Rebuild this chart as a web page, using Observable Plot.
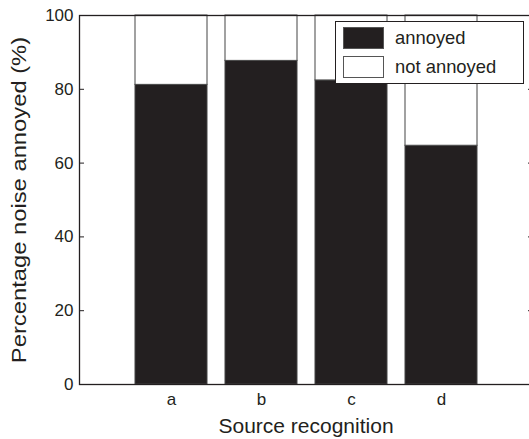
<!DOCTYPE html>
<html>
<head>
<meta charset="utf-8">
<script src="https://cdn.jsdelivr.net/npm/d3@7"></script>
<script src="https://cdn.jsdelivr.net/npm/@observablehq/plot@0.6"></script>
<style>
  html, body { margin: 0; padding: 0; background: #fff; overflow: hidden; }
  #wrap { position: relative; width: 529px; height: 439px; font-family: "Liberation Sans", Arial, Helvetica, sans-serif; }
  #legend { position: absolute; left: 335px; top: 21px; width: 187px; height: 61px; border: 1.2px solid #231f20; background: #fff; }
  .item { position: absolute; left: 7px; height: 22px; display: flex; align-items: center; }
  .sw { width: 41px; height: 22px; box-sizing: border-box; border: 1px solid #555; }
  .lab { margin-left: 11px; font-size: 18.4px; color: #231f20; }
</style>
</head>
<body>
<div id="wrap"></div>
<script>
const categories = ["a", "b", "c", "d"];
const annoyed = [81.2, 87.7, 82.4, 64.7];
const statuses = ["annoyed", "not annoyed"];
const statusColors = ["#231f20", "#ffffff"];
const yTicks = [0, 20, 40, 60, 80, 100];
const xLabel = "Source recognition";
const yLabel = "Percentage noise annoyed (%)";

const rows = [];
categories.forEach((c, i) => {
  rows.push({cat: c, status: statuses[0], value: annoyed[i]});
  rows.push({cat: c, status: statuses[1], value: 100 - annoyed[i]});
});

const ink = "#231f20";
const font = "\"Liberation Sans\", Arial, Helvetica, sans-serif";

const chart = Plot.plot({
  width: 529,
  height: 439,
  marginLeft: 79,
  marginRight: -3,
  marginTop: 15,
  marginBottom: 55,
  style: {fontFamily: font, background: "#fff", color: ink},
  x: {domain: categories, paddingInner: 0.2, paddingOuter: 0.6, align: 0.5},
  y: {domain: [0, 100]},
  color: {domain: statuses, range: statusColors},
  marks: [
    Plot.barY(rows, {x: "cat", y: "value", fill: "status", stroke: "#444", strokeWidth: 1, order: statuses}),
    Plot.frame({stroke: ink, strokeWidth: 1.3}),
    Plot.axisY(yTicks, {anchor: "left", tickSize: -5, tickPadding: 11, fontSize: 17, stroke: ink, fill: ink, label: null}),
    Plot.axisY(yTicks, {anchor: "right", tickSize: -5, tickFormat: () => "", stroke: ink, label: null}),
    Plot.axisX({anchor: "bottom", tickSize: 0, tickPadding: 8, fontSize: 17, fill: ink, label: null}),
    Plot.text([xLabel], {text: d => d, frameAnchor: "bottom", lineAnchor: "middle", textAnchor: "middle", dy: 42, fontSize: 21, fill: ink}),
    Plot.text([yLabel], {text: d => d, frameAnchor: "left", lineAnchor: "middle", textAnchor: "middle", dx: -60, rotate: -90, fontSize: 20.5, fill: ink})
  ]
});

const wrap = document.getElementById("wrap");
wrap.appendChild(chart);

// stretch the y label along its direction to match the reference length
chart.querySelectorAll("text").forEach(t => {
  if (t.textContent === yLabel) {
    const tr = t.getAttribute("transform") || "";
    t.setAttribute("transform", tr + " scale(1.16,1)");
  }
});

const legend = document.createElement("div");
legend.id = "legend";
statuses.forEach((s, i) => {
  const item = document.createElement("div");
  item.className = "item";
  item.style.top = (i === 0 ? 5 : 34) + "px";
  const sw = document.createElement("div");
  sw.className = "sw";
  sw.style.background = statusColors[i];
  const lab = document.createElement("span");
  lab.className = "lab";
  lab.textContent = s;
  item.appendChild(sw);
  item.appendChild(lab);
  legend.appendChild(item);
});
wrap.appendChild(legend);
</script>
</body>
</html>
